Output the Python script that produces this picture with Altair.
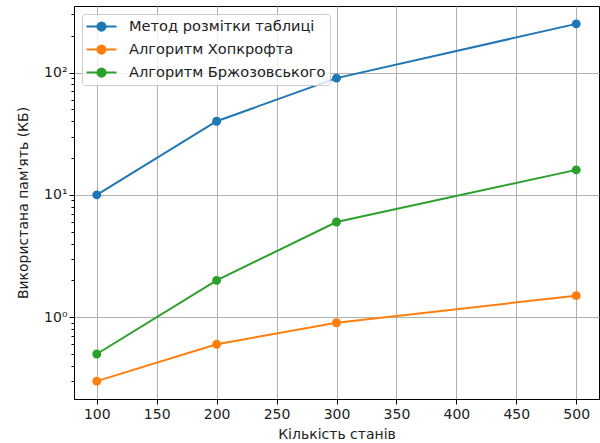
import altair as alt
import pandas as pd

states = [100, 200, 300, 500]
series_names = ["Метод розмітки таблиці", "Алгоритм Хопкрофта", "Алгоритм Бржозовського"]
table_method = [10, 40, 90, 250]
hopcroft = [0.3, 0.6, 0.9, 1.5]
brzozowski = [0.5, 2, 6, 16]
colors = ["#1f77b4", "#ff7f0e", "#2ca02c"]

x_ticks = [100, 150, 200, 250, 300, 350, 400, 450, 500]
y_ticks = [0.3, 0.4, 0.5, 0.6, 0.7, 0.8, 0.9, 1,
           2, 3, 4, 5, 6, 7, 8, 9, 10,
           20, 30, 40, 50, 60, 70, 80, 90, 100, 200, 300]

rows = []
for name, vals in zip(series_names, [table_method, hopcroft, brzozowski]):
    for s, v in zip(states, vals):
        rows.append({"states": s, "mem": v, "series": name})
df = pd.DataFrame(rows)

font = "DejaVu Sans"
fs = 14
major_test = "indexof([1, 10, 100], datum.value) >= 0"
label_expr = ("datum.value == 1 ? '10⁰' : datum.value == 10 ? '10¹' : "
              "datum.value == 100 ? '10²' : ''")

legend_symbol = "M-2,0L2,0M-0.55,0A0.55,0.55,0,1,0,0.55,0A0.55,0.55,0,1,0,-0.55,0Z"

chart = alt.Chart(df).mark_line(
    strokeWidth=2,
    point=alt.OverlayMarkDef(filled=True, size=80, opacity=1),
).encode(
    x=alt.X("states:Q",
            scale=alt.Scale(domain=[81, 519], nice=False, zero=False),
            axis=alt.Axis(values=x_ticks, title="Кількість станів",
                          labelFlush=False, tickSize=5, labelPadding=3,
                          titlePadding=6)),
    y=alt.Y("mem:Q",
            scale=alt.Scale(type="log", domain=[0.2143, 350], nice=False),
            axis=alt.Axis(values=y_ticks,
                          labelExpr=label_expr,
                          title="Використана пам'ять (КБ)",
                          tickSize={"condition": {"test": major_test, "value": 5}, "value": 3},
                          gridOpacity={"condition": {"test": major_test, "value": 1}, "value": 0},
                          labelPadding=2, titlePadding=13)),
    color=alt.Color("series:N",
                    scale=alt.Scale(domain=series_names, range=colors),
                    sort=series_names,
                    legend=alt.Legend(title=None, orient="top-left", offset=8,
                                      symbolType=legend_symbol, symbolSize=225,
                                      symbolStrokeWidth=2, labelFontSize=14.6,
                                      labelFont=font, labelColor="#222222",
                                      labelLimit=400,
                                      symbolOffset=7, labelOffset=19,
                                      rowPadding=6,
                                      padding=4, cornerRadius=3,
                                      strokeColor="#cccccc",
                                      fillColor="rgba(255,255,255,0.8)")),
).properties(
    width=525, height=393,
    autosize="none",
    padding={"left": 74, "top": 6, "right": 1, "bottom": 44},
).configure_view(
    stroke="black", strokeWidth=1
).configure_axis(
    labelFont=font, titleFont=font, labelFontSize=fs, titleFontSize=fs,
    labelColor="#222222", titleColor="#222222", titleFontWeight="normal",
    domainColor="black", tickColor="black", gridColor="#b0b0b0", gridWidth=1,
)

chart.save("out.html", embed_options={"renderer": "svg", "actions": False})
